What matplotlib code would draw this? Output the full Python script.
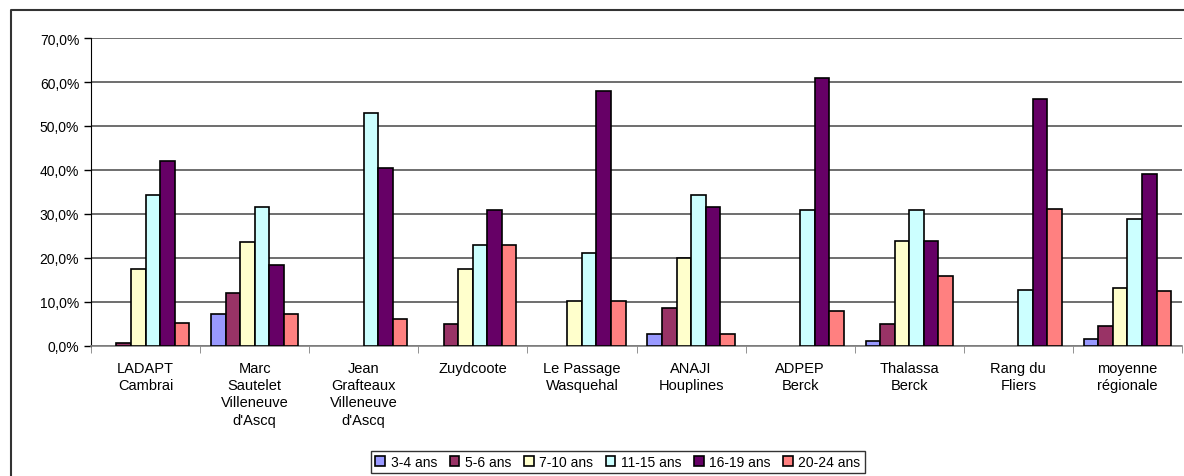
import matplotlib.pyplot as plt
import numpy as np
from matplotlib.lines import Line2D

plt.rcParams['font.family'] = ['Liberation Sans', 'DejaVu Sans']

centres = ["LADAPT\nCambrai", "Marc\nSautelet\nVilleneuve\nd'Ascq",
           "Jean\nGrafteaux\nVilleneuve\nd'Ascq", "Zuydcoote",
           "Le Passage\nWasquehal", "ANAJI\nHouplines", "ADPEP\nBerck",
           "Thalassa\nBerck", "Rang du\nFliers", "moyenne\nrégionale"]
ages = ["3-4 ans", "5-6 ans", "7-10 ans", "11-15 ans", "16-19 ans", "20-24 ans"]
colors = ["#9999FF", "#993366", "#FFFFCC", "#CCFFFF", "#660066", "#FF8080"]

# percentages per age band, one value per centre
a_3_4 = [0, 7.3, 0, 0, 0, 2.8, 0, 1.1, 0, 1.7]
a_5_6 = [0.7, 12.1, 0, 4.9, 0, 8.6, 0, 4.9, 0, 4.5]
a_7_10 = [17.6, 23.6, 0, 17.4, 10.3, 20.1, 0, 23.9, 0, 13.2]
a_11_15 = [34.3, 31.6, 53.0, 22.9, 21.1, 34.3, 30.8, 30.8, 12.8, 28.9]
a_16_19 = [42.0, 18.4, 40.5, 30.8, 58.0, 31.5, 61.0, 23.9, 56.1, 39.2]
a_20_24 = [5.2, 7.3, 6.2, 22.9, 10.3, 2.8, 8.0, 16.0, 31.1, 12.5]
series = [a_3_4, a_5_6, a_7_10, a_11_15, a_16_19, a_20_24]

W, H = 1184, 477
fig = plt.figure(figsize=(W / 100, H / 100), dpi=100)
ax = fig.add_axes([91 / W, 130 / H, 1091 / W, 308 / H])

x = np.arange(len(centres))
bw = 0.8 / 6
for i, (vals, col, lab) in enumerate(zip(series, colors, ages)):
    v = np.array(vals, dtype=float)
    v[v == 0] = np.nan  # empty cells: no bar drawn
    ax.bar(x - 0.4 + bw * (i + 0.5), v, bw, color=col, edgecolor='black',
           linewidth=1.2, label=lab, zorder=3)

ax.set_xlim(-0.5, len(centres) - 0.5)
ax.set_ylim(0, 70)
ax.set_yticks(range(0, 71, 10))
ax.set_yticklabels([f"{v},0%" for v in range(0, 71, 10)], fontsize=10)
ax.yaxis.grid(True, color='#555555', linewidth=1.2, zorder=0)
ax.set_xticks(x)
ax.set_xticklabels(centres, fontsize=10.5, linespacing=1.28)
ax.set_xticks(np.arange(-0.5, len(centres)), minor=True)
ax.tick_params(axis='x', which='major', length=0, pad=11)
ax.tick_params(axis='x', which='minor', length=5, color='#808080')
ax.tick_params(axis='y', length=5, width=1)
for s in ['top', 'right']:
    ax.spines[s].set_visible(False)
ax.spines['left'].set_color('black')
ax.spines['bottom'].set_color('#808080')
ax.spines['bottom'].set_linewidth(1.2)

leg = fig.legend(loc='center', bbox_to_anchor=(618 / W, 1 - 463 / H), ncol=6,
                 fontsize=10, handlelength=0.7, handleheight=0.7,
                 handletextpad=0.4, columnspacing=0.9, fancybox=False,
                 edgecolor='black', borderpad=0.3)
leg.get_frame().set_linewidth(1.0)

# outer chart frame
fig.add_artist(Line2D([11 / W, 11 / W, 1], [0, 1 - 11 / H, 1 - 11 / H],
                      color='#333333', linewidth=1.5, transform=fig.transFigure))

fig.savefig('out.png', dpi=100)
